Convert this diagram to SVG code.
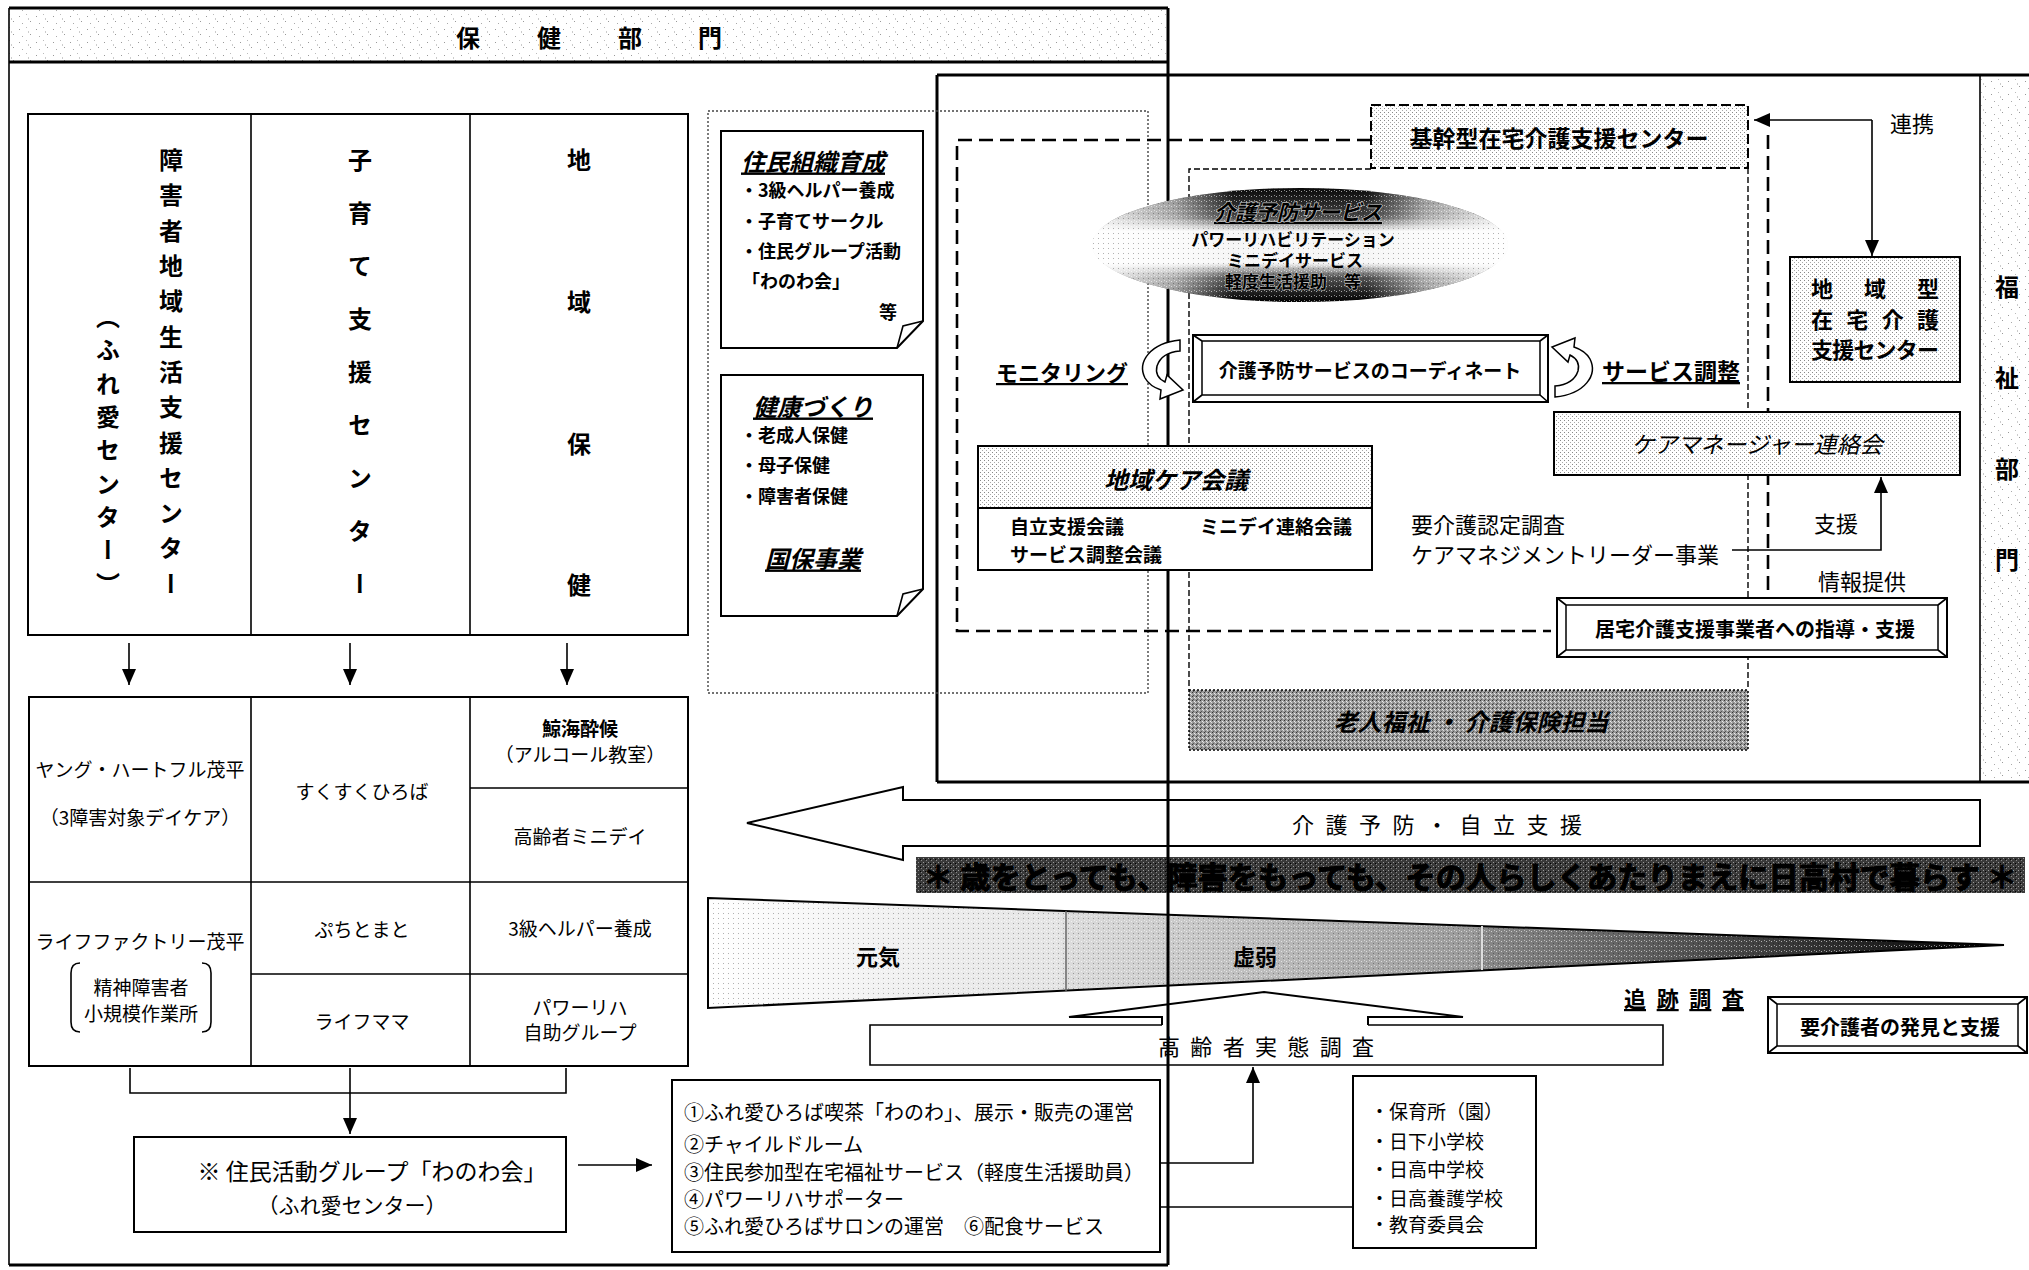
<svg xmlns="http://www.w3.org/2000/svg" width="2029" height="1270" viewBox="0 0 2029 1270">
<style>
text{font-family:"Noto Sans CJK JP","Noto Sans CJK SC",sans-serif;fill:#000}
.b{font-weight:700}
.c{text-anchor:middle;dominant-baseline:central}
.m{dominant-baseline:central}
.i{font-style:italic}
.u{text-decoration:underline}
.v{writing-mode:vertical-rl}
.bx{fill:#fff;stroke:#000;stroke-width:2}
.ln{fill:none;stroke:#000;stroke-width:1.6}
.thk{fill:none;stroke:#000;stroke-width:3}
.dash{fill:none;stroke:#000;stroke-width:2.6;stroke-dasharray:14 7}
.dsh2{fill:none;stroke:#000;stroke-width:1.4;stroke-dasharray:6 3}
.dot{fill:none;stroke:#444;stroke-width:1.4;stroke-dasharray:2 2}
</style>
<defs>
<pattern id="spk" width="17" height="13" patternUnits="userSpaceOnUse">
<rect width="17" height="13" fill="#fff"/>
<rect x="2" y="3" width="1" height="1" fill="#999"/><rect x="9" y="1" width="1" height="1" fill="#bbb"/>
<rect x="13" y="8" width="1" height="1" fill="#999"/><rect x="5" y="10" width="1" height="1" fill="#aaa"/>
<rect x="11" y="5" width="1" height="2" fill="#ccc"/>
</pattern>
<pattern id="dots" width="4" height="4" patternUnits="userSpaceOnUse">
<rect width="4" height="4" fill="#fff"/><rect x="0" y="0" width="1" height="1" fill="#888"/><rect x="2" y="2" width="1" height="1" fill="#aaa"/>
</pattern>
<pattern id="dark" width="4" height="4" patternUnits="userSpaceOnUse">
<rect width="4" height="4" fill="#9a9a9a"/><rect x="0" y="0" width="1" height="1" fill="#333"/><rect x="2" y="1" width="1" height="1" fill="#eee"/><rect x="1" y="3" width="1" height="1" fill="#555"/><rect x="3" y="2" width="1" height="1" fill="#ddd"/>
</pattern>
<pattern id="vdark" width="5" height="4" patternUnits="userSpaceOnUse">
<rect width="5" height="4" fill="#3a3a3a"/><rect x="1" y="0" width="1" height="1" fill="#888"/><rect x="3" y="2" width="1" height="1" fill="#999"/><rect x="0" y="3" width="1" height="1" fill="#000"/>
</pattern>
<pattern id="grain" width="5" height="5" patternUnits="userSpaceOnUse">
<rect x="1" y="1" width="1" height="1" fill="#fff" fill-opacity="0.6"/><rect x="3" y="3" width="1" height="1" fill="#000" fill-opacity="0.3"/><rect x="4" y="0" width="1" height="1" fill="#fff" fill-opacity="0.5"/>
</pattern>
<linearGradient id="ellV" x1="0" y1="0" x2="0" y2="1">
<stop offset="0" stop-color="#0a0a0a"/><stop offset="0.25" stop-color="#444"/><stop offset="0.38" stop-color="#f6f6f6"/><stop offset="0.66" stop-color="#f6f6f6"/><stop offset="0.78" stop-color="#555"/><stop offset="1" stop-color="#000"/>
</linearGradient>
<linearGradient id="ellH" x1="0" y1="0" x2="1" y2="0">
<stop offset="0" stop-color="#fff" stop-opacity="0.92"/><stop offset="0.2" stop-color="#fff" stop-opacity="0.55"/><stop offset="0.34" stop-color="#fff" stop-opacity="0"/><stop offset="0.66" stop-color="#fff" stop-opacity="0"/><stop offset="0.8" stop-color="#fff" stop-opacity="0.55"/><stop offset="1" stop-color="#fff" stop-opacity="0.92"/>
</linearGradient>
<linearGradient id="wg" x1="0" y1="0" x2="1" y2="0">
<stop offset="0" stop-color="#fff"/><stop offset="0.27" stop-color="#e4e4e4"/><stop offset="0.277" stop-color="#dcdcdc"/><stop offset="0.59" stop-color="#9a9a9a"/><stop offset="0.6" stop-color="#888"/><stop offset="0.85" stop-color="#333"/><stop offset="1" stop-color="#000"/>
</linearGradient>
<marker id="ah" viewBox="0 0 16 14" refX="16" refY="7" markerWidth="16" markerHeight="14" markerUnits="userSpaceOnUse" orient="auto">
<path d="M0,0 L16,7 L0,14 Z" fill="#000"/>
</marker>
</defs>
<rect width="2029" height="1270" fill="#fff"/>

<g id="health-frame">
<rect x="9" y="8" width="1159" height="54" fill="url(#spk)"/>
<path class="thk" d="M9,8 H1168 M9,62 H1168 M9,1265 H1168"/>
<path class="ln" stroke-width="2" d="M9,8 V1265"/>
<text class="b c" font-size="24"><tspan x="468 549 630 710" y="36">保健部門</tspan></text>
</g>

<g id="welfare-frame">
<rect x="1980" y="75" width="49" height="707" fill="url(#spk)"/>
<path class="thk" d="M937,75 H2029 M937,75 V782 M937,782 H2029"/>
<path class="ln" stroke-width="2" d="M1980,75 V782"/>
<text class="b v" x="2007" y="275" font-size="24" letter-spacing="67">福祉部門</text>
</g>

<g id="programs-dotted">
<rect x="708" y="111" width="440" height="582" class="dot"/>
</g>

<g id="center-columns">
<rect x="28" y="114" width="660" height="521" class="bx"/>
<path class="ln" d="M251,114 V635 M470,114 V635"/>
<text class="b v" x="171" y="148" font-size="24" letter-spacing="11.3">障害者地域生活支援センター</text>
<text class="b v" x="108" y="305" font-size="24" letter-spacing="9.3">（ふれ愛センター）</text>
<text class="b v" x="360" y="148" font-size="24" letter-spacing="29">子育て支援センター</text>
<text class="b v" x="579" y="148" font-size="24" letter-spacing="117.7">地域保健</text>
</g>

<g id="activity-table">
<rect x="29" y="697" width="659" height="369" class="bx"/>
<path class="ln" d="M251,697 V1066 M470,697 V1066 M29,882 H251 M251,882 H688 M251,974 H688 M470,788 H688"/>
<text class="c" font-size="19" x="140" y="768">ヤング・ハートフル茂平</text>
<text class="c" font-size="19" x="140" y="816">（3障害対象デイケア）</text>
<text class="c" font-size="19" x="140" y="940">ライフファクトリー茂平</text>
<text class="c" font-size="19" x="141" y="986">精神障害者</text>
<text class="c" font-size="19" x="141" y="1012">小規模作業所</text>
<path class="ln" d="M80,963 Q71,963 71,973 V1022 Q71,1032 80,1032 M202,963 Q211,963 211,973 V1022 Q211,1032 202,1032"/>
<text class="c" font-size="19" x="362" y="790">すくすくひろば</text>
<text class="c" font-size="19" x="362" y="928">ぷちとまと</text>
<text class="c" font-size="19" x="362" y="1020">ライフママ</text>
<text class="c b" font-size="19" x="580" y="727">鯨海酔候</text>
<text class="c" font-size="19" x="580" y="753">（アルコール教室）</text>
<text class="c" font-size="19" x="580" y="835">高齢者ミニデイ</text>
<text class="c" font-size="19" x="580" y="927">3級ヘルパー養成</text>
<text class="c" font-size="19" x="580" y="1006">パワーリハ</text>
<text class="c" font-size="19" x="580" y="1031">自助グループ</text>
</g>

<g id="group-box">
<rect x="134" y="1137" width="432" height="95" class="bx"/>
<text class="c" font-size="23" x="372" y="1170">※ 住民活動グループ「わのわ会」</text>
<text class="c" font-size="21" x="352" y="1204">（ふれ愛センター）</text>
</g>

<g id="activity-list">
<rect x="672" y="1080" width="488" height="172" class="bx"/>
<text class="m" font-size="20" x="684" y="1111">①ふれ愛ひろば喫茶「わのわ」、展示・販売の運営</text>
<text class="m" font-size="20" x="684" y="1143">②チャイルドルーム</text>
<text class="m" font-size="20" x="684" y="1171">③住民参加型在宅福祉サービス（軽度生活援助員）</text>
<text class="m" font-size="20" x="684" y="1198">④パワーリハサポーター</text>
<text class="m" font-size="20" x="684" y="1225">⑤ふれ愛ひろばサロンの運営　⑥配食サービス</text>
</g>

<g id="school-box">
<rect x="1353" y="1076" width="183" height="172" class="bx"/>
<text class="m" font-size="19" x="1370" y="1110">・保育所（園）</text>
<text class="m" font-size="19" x="1370" y="1140">・日下小学校</text>
<text class="m" font-size="19" x="1370" y="1168">・日高中学校</text>
<text class="m" font-size="19" x="1370" y="1197">・日高養護学校</text>
<text class="m" font-size="19" x="1370" y="1223">・教育委員会</text>
</g>

<g id="note-organize">
<path class="bx" stroke-width="1.8" d="M721,131 H923 V321 L897,348 H721 Z"/>
<path class="ln" d="M897,348 L903,326 L923,321"/>
<text class="c b i u" font-size="24" x="813" y="160">住民組織育成</text>
<text class="m b" font-size="18" x="740" y="189">・3級ヘルパー養成</text>
<text class="m b" font-size="18" x="740" y="220">・子育てサークル</text>
<text class="m b" font-size="18" x="740" y="250">・住民グループ活動</text>
<text class="m b" font-size="18" x="742" y="280">「わのわ会」</text>
<text class="c b" font-size="18" x="888" y="311">等</text>
</g>

<g id="note-health">
<path class="bx" stroke-width="1.8" d="M721,375 H923 V589 L897,616 H721 Z"/>
<path class="ln" d="M897,616 L903,594 L923,589"/>
<text class="c b i u" font-size="24" x="813" y="405">健康づくり</text>
<text class="m b" font-size="18" x="740" y="434">・老成人保健</text>
<text class="m b" font-size="18" x="740" y="464">・母子保健</text>
<text class="m b" font-size="18" x="740" y="495">・障害者保健</text>
<text class="c b i u" font-size="24" x="813" y="557">国保事業</text>
</g>

<g id="dashed-areas">
<path class="dash" d="M1371,140 H957 V631 H1551"/>
<path class="dash" d="M1768,135 V598"/>
<path class="dsh2" d="M1371,169 H1189 V690 M1748,168 V690"/>
</g>

<g id="kikan-center">
<rect x="1371" y="105" width="377" height="63" fill="url(#dots)" stroke="#000" stroke-width="2" stroke-dasharray="10 4"/>
<text class="c b" font-size="23" x="1559" y="137">基幹型在宅介護支援センター</text>
</g>

<g id="rojin-box">
<rect x="1189" y="690" width="559" height="60" fill="url(#dark)" stroke="#000" stroke-width="1.5" stroke-dasharray="2 2"/>
<text class="c b i" font-size="24" x="1471" y="720" fill="#111">老人福祉 ・ 介護保険担当</text>
</g>

<g id="left-arrow">
<polygon class="bx" points="747,823 903,787 903,800 1980,800 1980,846 903,846 903,860"/>
<text class="c" font-size="22" x="1437" y="823" textLength="290" lengthAdjust="spacing">介護予防・自立支援</text>
</g>

<g id="slogan">
<rect x="916" y="857" width="1109" height="36" fill="url(#vdark)"/>
<text class="c b" font-size="30" x="1470" y="875" textLength="1094" lengthAdjust="spacingAndGlyphs" fill="#fff" stroke="#000" stroke-width="1" paint-order="stroke">＊ 歳をとっても、障害をもっても、その人らしくあたりまえに日高村で暮らす ＊</text>
</g>

<g id="wedge">
<polygon points="708,898 2004,945 708,1008" fill="url(#wg)"/>
<polygon points="708,898 2004,945 708,1008" fill="url(#grain)"/>
<polygon points="708,898 2004,945 708,1008" fill="none" stroke="#000" stroke-width="2"/>
<path d="M1066,911 V991" stroke="#666" stroke-width="1.5"/>
<path d="M1482,926 V970" stroke="#ddd" stroke-width="2"/>
<text class="c b" font-size="22" x="878" y="955">元気</text>
<text class="c b" font-size="22" x="1255" y="955">虚弱</text>
</g>

<g id="survey-box">
<rect x="870" y="1025" width="793" height="40" fill="#fff"/>
<path class="ln" stroke-width="2" d="M1162,1025 H870 V1065 H1663 V1025 H1368"/>
<polyline class="bx" points="1162,1025 1162,1017 1069,1017 1264,992 1463,1017 1368,1017 1368,1025"/>
<rect x="1163" y="1018" width="204" height="9" fill="#fff"/>
<text class="c" font-size="22" x="1266" y="1045" textLength="216" lengthAdjust="spacing">高齢者実態調査</text>
</g>

<g id="tracking">
<text class="c b u" font-size="22" x="1684" y="997" textLength="120" lengthAdjust="spacing">追跡調査</text>
<rect x="1768" y="997" width="259" height="56" class="bx"/>
<rect x="1777" y="1004" width="241" height="42" fill="none" stroke="#000" stroke-width="1.5"/>
<path class="ln" stroke-width="1.2" d="M1768,997 L1777,1004 M2027,997 L2018,1004 M1768,1053 L1777,1046 M2027,1053 L2018,1046"/>
<text class="c b" font-size="20" x="1900" y="1026">要介護者の発見と支援</text>
</g>

<g id="frame-line">
<path class="thk" d="M1168,8 V201 M1168,289 V446 M1168,570 V1265"/>
</g>

<g id="prevention-ellipse">
<ellipse cx="1300" cy="245" rx="208" ry="57" fill="url(#ellV)"/>
<ellipse cx="1300" cy="245" rx="208" ry="57" fill="url(#ellH)"/>
<ellipse cx="1300" cy="245" rx="208" ry="57" fill="url(#grain)"/>
<text class="c b i u" font-size="21" x="1298" y="211" fill="#000" stroke="#bbb" stroke-width="1.5" paint-order="stroke">介護予防サービス</text>
<text class="c b" font-size="17" x="1293" y="238">パワーリハビリテーション</text>
<text class="c b" font-size="17" x="1295" y="259">ミニデイサービス</text>
<text class="c b" font-size="17" x="1293" y="280" fill="#000" stroke="#bbb" stroke-width="1.2" paint-order="stroke">軽度生活援助　等</text>
</g>

<g id="coordinate-box">
<rect x="1193" y="335" width="355" height="67" class="bx"/>
<rect x="1202" y="341" width="338" height="54" fill="none" stroke="#000" stroke-width="1.5"/>
<path class="ln" stroke-width="1.2" d="M1193,335 L1202,341 M1548,335 L1540,341 M1193,402 L1202,395 M1548,402 L1540,395"/>
<text class="c b" font-size="19" x="1370" y="369">介護予防サービスのコーディネート</text>
</g>

<g id="loop-arrows">
<path fill="#fff" stroke="#000" stroke-width="1.5" d="M1180,340 C1150,343 1137,362 1145,378 C1149,385 1155,388 1161,390 L1160,399 L1183,390 L1167,375 L1165,382 C1159,379 1155,374 1157,366 C1160,357 1168,352 1180,351 Z"/>
<path fill="#fff" stroke="#000" stroke-width="1.5" transform="translate(1575,368) rotate(180) translate(-1160,-369)" d="M1180,340 C1150,343 1137,362 1145,378 C1149,385 1155,388 1161,390 L1160,399 L1183,390 L1167,375 L1165,382 C1159,379 1155,374 1157,366 C1160,357 1168,352 1180,351 Z"/>
<text class="c b u" font-size="22" x="1062" y="371">モニタリング</text>
<text class="c b u" font-size="23" x="1671" y="370">サービス調整</text>
</g>

<g id="chiiki-center">
<rect x="1790" y="257" width="170" height="125" fill="url(#dots)" stroke="#000" stroke-width="2"/>
<text class="c b" font-size="22" x="1875" y="287" textLength="128" lengthAdjust="spacing">地域型</text>
<text class="c b" font-size="22" x="1875" y="318" textLength="128" lengthAdjust="spacing">在宅介護</text>
<text class="c b" font-size="22" x="1875" y="348" textLength="128" lengthAdjust="spacing">支援センター</text>
<text class="c" font-size="22" x="1912" y="122">連携</text>
</g>

<g id="caremanager">
<rect x="1554" y="412" width="406" height="63" fill="url(#dots)" stroke="#000" stroke-width="2"/>
<text class="c i" font-size="23" x="1757" y="443">ケアマネージャー連絡会</text>
</g>

<g id="care-meeting">
<rect x="978" y="446" width="394" height="62" fill="url(#dots)" stroke="#000" stroke-width="2"/>
<rect x="978" y="508" width="394" height="62" class="bx"/>
<text class="c b i" font-size="24" x="1176" y="478">地域ケア会議</text>
<text class="m b" font-size="19" x="1010" y="525">自立支援会議</text>
<text class="m b" font-size="19" x="1200" y="525">ミニデイ連絡会議</text>
<text class="m b" font-size="19" x="1010" y="553">サービス調整会議</text>
</g>

<g id="cm-leader">
<text class="m" font-size="22" x="1411" y="523">要介護認定調査</text>
<text class="m" font-size="22" x="1411" y="553">ケアマネジメントリーダー事業</text>
<text class="c" font-size="22" x="1836" y="522">支援</text>
<text class="c" font-size="22" x="1862" y="580">情報提供</text>
</g>

<g id="kyotaku-box">
<rect x="1557" y="598" width="390" height="59" class="bx"/>
<rect x="1566" y="605" width="372" height="45" fill="none" stroke="#000" stroke-width="1.5"/>
<path class="ln" stroke-width="1.2" d="M1557,598 L1566,605 M1947,598 L1938,605 M1557,657 L1566,650 M1947,657 L1938,650"/>
<text class="c b" font-size="20" x="1755" y="628">居宅介護支援事業者への指導・支援</text>
</g>

<g id="connectors">
<path class="ln" d="M129,643 V685" marker-end="url(#ah)"/>
<path class="ln" d="M350,643 V685" marker-end="url(#ah)"/>
<path class="ln" d="M567,643 V685" marker-end="url(#ah)"/>
<path class="ln" d="M130,1068 V1093 H566 V1068"/>
<path class="ln" d="M350,1068 V1134" marker-end="url(#ah)"/>
<path class="ln" d="M578,1165 H652" marker-end="url(#ah)"/>
<path class="ln" d="M1160,1163 H1253 V1067" marker-end="url(#ah)"/>
<path class="ln" d="M1160,1207 H1353"/>
<path class="ln" d="M1732,550 H1881 V477" marker-end="url(#ah)"/>
<path class="ln" d="M1872,120 H1754" marker-end="url(#ah)"/>
<path class="ln" d="M1872,120 V256" marker-end="url(#ah)"/>
</g>
</svg>
